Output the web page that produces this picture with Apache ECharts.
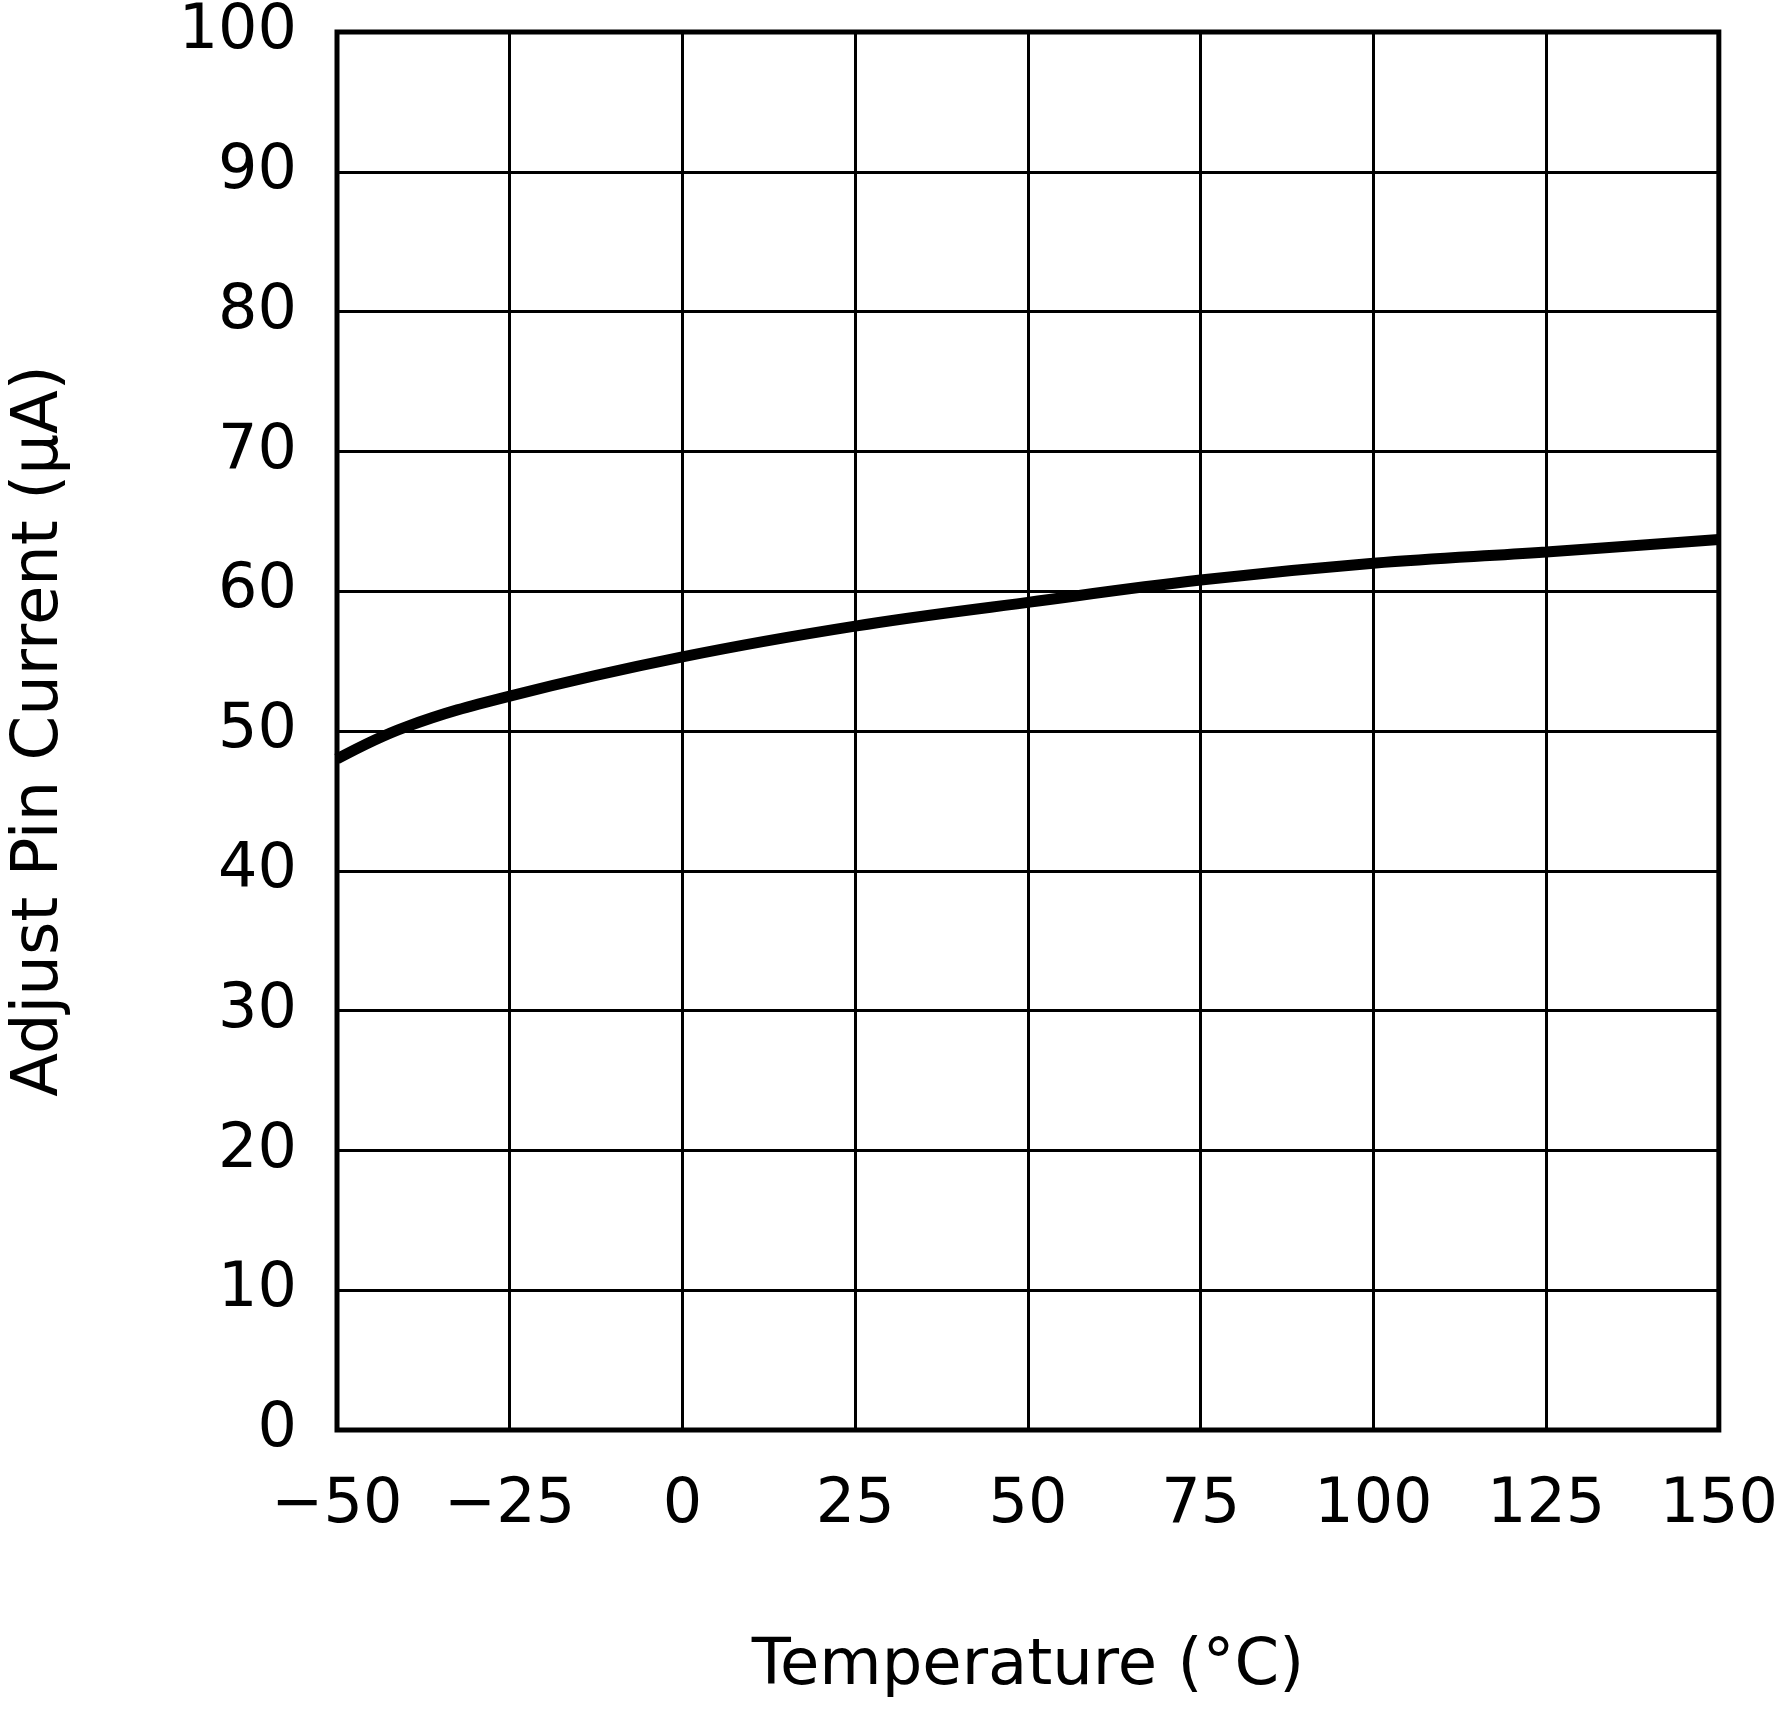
<!DOCTYPE html>
<html>
<head>
    <meta charset="utf-8">
    <title>Adjust Pin Current</title>
    <style>
        *{ margin:0; padding:0; box-sizing:border-box; }
        html, body, #chart{ width:100%; height:100%; overflow:hidden; background:#fff; }
    </style>
</head>
<body>
    <div id="chart"></div>
    <script src="https://cdn.jsdelivr.net/npm/echarts@6/dist/echarts.min.js"></script>
    <script>
        var temps = [-50, -40, -25, 0, 25, 50, 75, 100, 125, 150];
        var current = [48, 50.3, 52.5, 55.3, 57.5, 59.2, 60.8, 62, 62.8, 63.7];

        var chart = echarts.init(document.getElementById('chart'));
        var font = 'DejaVu Sans';

        chart.setOption({
            animation: false,
            grid: { left: 319, right: 61, top: 32, bottom: 295, show: true, borderColor: '#000', borderWidth: 5 },
            xAxis: {
                type: 'value', min: -50, max: 150, interval: 25,
                name: 'Temperature (°C)', nameLocation: 'middle', nameGap: 205,
                nameTextStyle: { fontFamily: font, fontSize: 64, color: '#000' },
                axisLine: { show: false }, axisTick: { show: false },
                splitLine: { lineStyle: { color: '#000', width: 3 } },
                axisLabel: {
                    fontFamily: font, fontSize: 62, color: '#000', margin: 45, hideOverlap: false,
                    formatter: function (v) { return String(v).replace('-', '\u2212'); }
                }
            },
            yAxis: {
                type: 'value', min: 0, max: 100, interval: 10,
                name: 'Adjust Pin Current (\u03bcA)', nameLocation: 'middle', nameGap: 265,
                nameTextStyle: { fontFamily: font, fontSize: 64, color: '#000' },
                axisLine: { show: false }, axisTick: { show: false },
                splitLine: { lineStyle: { color: '#000', width: 3 } },
                axisLabel: { fontFamily: font, fontSize: 62, color: '#000', margin: 40 }
            },
            series: [{
                type: 'line', smooth: 0.4, symbol: 'none',
                data: temps.map(function (t, i) { return [t, current[i]]; }),
                lineStyle: { color: '#000', width: 11 }
            }]
        });
    </script>
</body>
</html>
